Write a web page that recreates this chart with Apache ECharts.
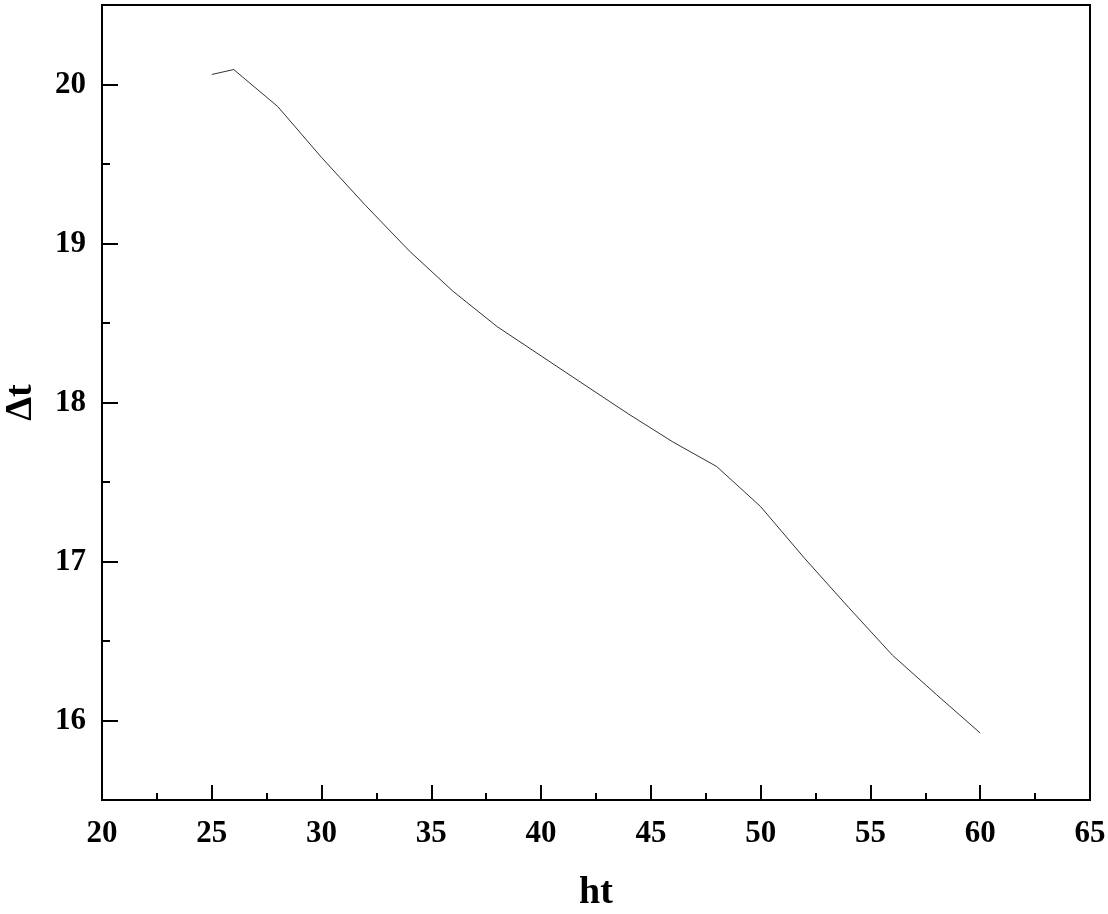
<!DOCTYPE html>
<html>
<head>
<meta charset="utf-8">
<script src="https://cdn.jsdelivr.net/npm/echarts@6/dist/echarts.min.js"></script>
<style>
	html, body { margin: 0; padding: 0; background: #fff; }
	#chart { width: 1108px; height: 914px; }
</style>
</head>
<body>
<div id="chart"></div>
<script>
// ht values (x) and Δt values (y)
const htValues = [25, 26, 28, 30, 32, 34, 36, 38, 40, 42, 44, 46, 48, 50, 52, 54, 56, 58, 60]
const dtValues = [20.063, 20.094, 19.862, 19.541, 19.24, 18.953, 18.698, 18.477, 18.293, 18.109, 17.926, 17.752, 17.597, 17.345, 17.02, 16.712, 16.411, 16.164, 15.921]

const xMin = 20
const xMax = 65
const xStep = 5
const yMin = 15.5
const yMax = 20.5
const yMinorStep = 0.5

const serif = "'Liberation Serif', 'Times New Roman', serif"

const seriesData = htValues.map((x, i) => [x, dtValues[i]])

const myChart = echarts.init(document.getElementById('chart'))

const option = {
	animation: false,
	backgroundColor: '#fff',
	grid: {
		left: 102,
		right: 18,
		top: 5,
		bottom: 114,
		outerBoundsMode: 'none',
		containLabel: false,
		show: true,
		borderColor: '#000',
		borderWidth: 2,
	},
	xAxis: {
		type: 'value',
		min: xMin,
		max: xMax,
		interval: xStep,
		name: 'ht',
		nameLocation: 'middle',
		nameGap: 74,
		nameTextStyle: { fontFamily: serif, fontSize: 38, fontWeight: 'bold', color: '#000' },
		axisLine: { show: true, lineStyle: { color: '#000', width: 2 } },
		axisTick: { show: true, inside: true, length: 15, lineStyle: { color: '#000', width: 2 } },
		minorTick: { show: true, splitNumber: 2, length: 7, lineStyle: { color: '#000', width: 2 } },
		axisLabel: { fontFamily: serif, fontSize: 31, fontWeight: 'bold', color: '#000', margin: 18 },
		splitLine: { show: false },
	},
	yAxis: [
		{
			// major ticks + labels (interval left to echarts: 1)
			type: 'value',
			min: yMin,
			max: yMax,
			splitNumber: 5,
			name: 'Δt',
			nameLocation: 'middle',
			nameGap: 62,
			nameTextStyle: { fontFamily: serif, fontSize: 38, fontWeight: 'bold', color: '#000' },
			axisLine: { show: true, lineStyle: { color: '#000', width: 2 } },
			axisTick: { show: true, inside: true, length: 16, lineStyle: { color: '#000', width: 2 } },
			axisLabel: {
				fontFamily: serif,
				fontSize: 31,
				fontWeight: 'bold',
				color: '#000',
				margin: 16,
				formatter: (v) => (Number.isInteger(v) ? String(v) : ''),
			},
			splitLine: { show: false },
		},
		{
			// minor ticks every 0.5
			type: 'value',
			position: 'left',
			min: yMin,
			max: yMax,
			interval: yMinorStep,
			axisLine: { show: false },
			axisTick: { show: true, inside: true, length: 8, lineStyle: { color: '#000', width: 2 } },
			axisLabel: { show: false },
			splitLine: { show: false },
		},
	],
	series: [
		{
			type: 'line',
			data: seriesData,
			yAxisIndex: 0,
			symbol: 'none',
			lineStyle: { color: '#333', width: 1 },
		},
	],
}

myChart.setOption(option)
</script>
</body>
</html>
